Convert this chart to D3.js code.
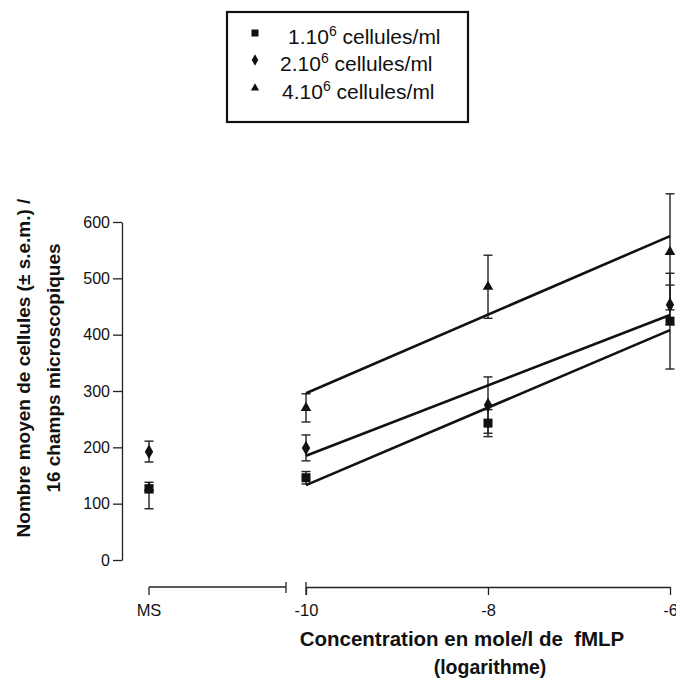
<!DOCTYPE html>
<html>
<head>
<meta charset="utf-8">
<script src="https://cdn.jsdelivr.net/npm/d3@7"></script>
<style>
  body { margin: 0; background: #fff; }
  svg text { font-family: "Liberation Sans", Arial, Helvetica, sans-serif; fill: #111; }
</style>
</head>
<body>
<div id="chart"></div>
<script>
// données
const seriesNames = ["1.10", "2.10", "4.10"];
const seriesShapes = ["square", "circle", "triangle"];
const concentrations = [-10, -8, -6];
const yTicks = [0, 100, 200, 300, 400, 500, 600];
const xTicks = [-10, -8, -6];

// témoin (MS) : [moyenne, bas, haut]
const msValues = [
  [126, 91, 133],
  [192, 174, 211],
  [128, 120, 138]
];
// moyennes aux concentrations -10, -8, -6
const meanSq = [146, 243, 424];
const meanCi = [199, 275, 453];
const meanTr = [270, 485, 547];
// s.e.m.
const semSq = [11, 24, 85];
const semCi = [23, 50, 35];
const semTr = [25, 56, 103];
// droites de régression : valeurs à -10 et -6
const fitSq = [133, 408];
const fitCi = [185, 435];
const fitTr = [296, 575];

const W = 676, H = 683;
const axisX = 122, axisY0 = 560, axisYTop = 222, xAxisY = 587;

const svg = d3.select("#chart").append("svg")
  .attr("width", W).attr("height", H);

const y = d3.scaleLinear().domain([0, 600]).range([axisY0, axisYTop]);
const x = d3.scaleLinear().domain([-10, -6]).range([306, 670]);
const xMS = d3.scalePoint().domain(["MS"]).range([149, 149]);
const msSegEnd = 286;

// axe Y
svg.append("g")
  .attr("transform", `translate(${axisX},0)`)
  .call(d3.axisLeft(y).tickValues(yTicks).tickSize(9).tickPadding(3).tickSizeOuter(0))
  .call(g => g.selectAll("path, line").attr("stroke", "#222").attr("stroke-width", 1.3))
  .selectAll("text").style("font-size", "16px");

// axe X - segment MS
const gx = svg.append("g");
gx.append("line").attr("x1", xMS("MS")).attr("x2", msSegEnd)
  .attr("y1", xAxisY).attr("y2", xAxisY).attr("stroke", "#222").attr("stroke-width", 1.3);
gx.append("line").attr("x1", xMS("MS")).attr("x2", xMS("MS"))
  .attr("y1", xAxisY).attr("y2", xAxisY + 8).attr("stroke", "#222").attr("stroke-width", 1.3);
gx.append("line").attr("x1", msSegEnd).attr("x2", msSegEnd)
  .attr("y1", xAxisY - 5).attr("y2", xAxisY + 6).attr("stroke", "#222").attr("stroke-width", 1.3);
gx.append("text").attr("x", xMS("MS")).attr("y", xAxisY + 29)
  .attr("text-anchor", "middle").style("font-size", "16.5px").text("MS");

// axe X - segment log
svg.append("g")
  .attr("transform", `translate(0,${xAxisY})`)
  .call(d3.axisBottom(x).tickValues(xTicks).tickSize(8).tickPadding(9).tickSizeOuter(0)
    .tickFormat(d => String(d)))
  .call(g => g.selectAll("path, line").attr("stroke", "#222").attr("stroke-width", 1.3))
  .call(g => g.selectAll("text").style("font-size", "16.5px"));
svg.append("line").attr("x1", x(-10)).attr("x2", x(-10))
  .attr("y1", xAxisY - 5).attr("y2", xAxisY + 8).attr("stroke", "#222").attr("stroke-width", 1.3);

// titres des axes
svg.append("text").attr("x", 462).attr("y", 646)
  .attr("text-anchor", "middle").style("font-size", "20.5px").style("font-weight", "700")
  .attr("xml:space", "preserve")
  .text("Concentration en mole/l de  fMLP");
svg.append("text").attr("x", 490).attr("y", 674)
  .attr("text-anchor", "middle").style("font-size", "19.5px").style("font-weight", "700")
  .text("(logarithme)");

const yt = svg.append("text").attr("transform", "translate(30,368) rotate(-90)")
  .attr("text-anchor", "middle").style("font-size", "19px").style("font-weight", "700");
yt.append("tspan").attr("x", 0).attr("dy", 0).text("Nombre moyen de cellules (± s.e.m.) /");
yt.append("tspan").attr("x", 0).attr("dy", 30).text("16 champs microscopiques");

// symboles
function drawMarker(g, shape, cx, cy, size) {
  if (shape === "square") {
    g.append("rect").attr("x", cx - size / 2).attr("y", cy - size / 2)
      .attr("width", size).attr("height", size).attr("fill", "#111");
  } else if (shape === "circle") {
    g.append("path").attr("d", d3.symbol(d3.symbolDiamond, size * size * 0.75)())
      .attr("transform", `translate(${cx},${cy})`).attr("fill", "#111");
  } else {
    g.append("path").attr("d", d3.symbol(d3.symbolTriangle, size * size * 0.6)())
      .attr("transform", `translate(${cx},${cy})`).attr("fill", "#111");
  }
}

function errorBar(g, cx, lo, hi) {
  const cap = 4.5;
  g.append("line").attr("x1", cx).attr("x2", cx).attr("y1", y(lo)).attr("y2", y(hi));
  g.append("line").attr("x1", cx - cap).attr("x2", cx + cap).attr("y1", y(lo)).attr("y2", y(lo));
  g.append("line").attr("x1", cx - cap).attr("x2", cx + cap).attr("y1", y(hi)).attr("y2", y(hi));
}

const means = [meanSq, meanCi, meanTr];
const sems = [semSq, semCi, semTr];
const fits = [fitSq, fitCi, fitTr];

const plot = svg.append("g");
const bars = plot.append("g").attr("stroke", "#222").attr("stroke-width", 1.4);

seriesNames.forEach((name, i) => {
  // régression
  plot.append("line")
    .attr("x1", x(concentrations[0])).attr("y1", y(fits[i][0]))
    .attr("x2", x(concentrations[2])).attr("y2", y(fits[i][1]))
    .attr("stroke", "#111").attr("stroke-width", 2.6);

  // MS
  const [m, lo, hi] = msValues[i];
  errorBar(bars, xMS("MS"), lo, hi);
  drawMarker(plot, seriesShapes[i], xMS("MS"), y(m), 9);

  concentrations.forEach((c, j) => {
    errorBar(bars, x(c), means[i][j] - sems[i][j], means[i][j] + sems[i][j]);
    drawMarker(plot, seriesShapes[i], x(c), y(means[i][j]), 9);
  });
});

// légende
const leg = svg.append("g");
leg.append("rect").attr("x", 227).attr("y", 12).attr("width", 241).attr("height", 110)
  .attr("fill", "none").attr("stroke", "#111").attr("stroke-width", 2.2);
const rowY = [44, 71, 99];
const textX = [288, 280, 282];
seriesNames.forEach((name, i) => {
  drawMarker(leg, seriesShapes[i], 255, rowY[i] - 11, 7);
  const t = leg.append("text").attr("x", textX[i]).attr("y", rowY[i]).style("font-size", "21px");
  t.append("tspan").text(name);
  t.append("tspan").attr("dy", -8).style("font-size", "14px").text("6");
  t.append("tspan").attr("dy", 8).attr("xml:space", "preserve").text(" cellules/ml");
});
</script>
</body>
</html>
